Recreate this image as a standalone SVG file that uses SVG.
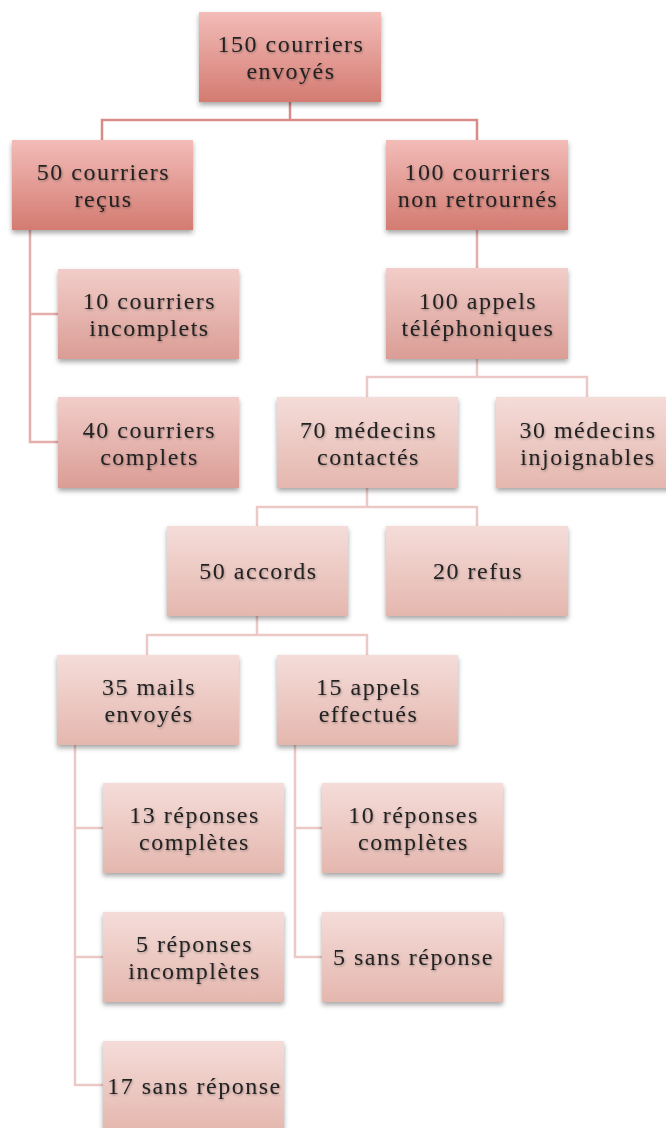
<svg xmlns="http://www.w3.org/2000/svg" width="666" height="1128" viewBox="0 0 666 1128">
<defs>
<linearGradient id="gDark" x1="0" y1="0" x2="0" y2="1"><stop offset="0" stop-color="#f3bcb8"/><stop offset="1" stop-color="#d37b71"/></linearGradient>
<linearGradient id="gMed" x1="0" y1="0" x2="0" y2="1"><stop offset="0" stop-color="#f2cdc9"/><stop offset="1" stop-color="#da9d95"/></linearGradient>
<linearGradient id="gLight" x1="0" y1="0" x2="0" y2="1"><stop offset="0" stop-color="#f5dcd9"/><stop offset="1" stop-color="#e4b7ae"/></linearGradient>
<filter id="shadow" x="-10%" y="-10%" width="120%" height="130%"><feDropShadow dx="0" dy="3" stdDeviation="2.5" flood-color="#000" flood-opacity="0.35"/></filter>
<filter id="tshadow" x="-5%" y="-20%" width="110%" height="150%"><feDropShadow dx="0.8" dy="1.2" stdDeviation="1" flood-color="#000" flood-opacity="0.3"/></filter>
</defs>
<style>
.box{filter:url(#shadow)}
.dark{fill:url(#gDark)}
.med{fill:url(#gMed)}
.light{fill:url(#gLight)}
text{font-family:"Liberation Serif","DejaVu Serif",serif;font-size:24px;letter-spacing:1.5px;fill:#222;text-anchor:middle;filter:url(#tshadow)}
.c0{stroke:#d88c89}
.c1{stroke:#e3aeab}
.c2{stroke:#ecc9c6}
#connectors path{fill:none;stroke-width:2.5}
</style>
<rect width="666" height="1128" fill="#fff"/>
<g id="connectors">
<path class="c0" d="M290,102 V120 M102,140 V120 H477 V140"/>
<path class="c1" d="M30,230 V442 H58 M30,314 H58"/>
<path class="c1" d="M477,230 V268"/>
<path class="c2" d="M477,359 V377 M367,397 V377 H587 V397"/>
<path class="c2" d="M367,488 V507 M257,526 V507 H477 V526"/>
<path class="c2" d="M257,616 V635 M147,655 V635 H367 V655"/>
<path class="c2" d="M75,745 V1085 H103 M75,828 H103 M75,957 H103"/>
<path class="c2" d="M295,745 V957 H322 M295,828 H322"/>
</g>
<g id="n0"><rect class="box dark" x="199" y="12" width="182" height="90"/><text x="291" y="52">150 courriers</text><text x="291" y="79">envoyés</text></g>
<g id="n1"><rect class="box dark" x="12" y="140" width="181" height="90"/><text x="103.5" y="180">50 courriers</text><text x="103.5" y="207">reçus</text></g>
<g id="n2"><rect class="box dark" x="386" y="140" width="182" height="90"/><text x="478" y="180">100 courriers</text><text x="478" y="207">non retrournés</text></g>
<g id="n3"><rect class="box med" x="58" y="269" width="181" height="90"/><text x="149.5" y="309">10 courriers</text><text x="149.5" y="336">incomplets</text></g>
<g id="n4"><rect class="box med" x="58" y="397" width="181" height="91"/><text x="149.5" y="438">40 courriers</text><text x="149.5" y="465">complets</text></g>
<g id="n5"><rect class="box med" x="386" y="268" width="182" height="91"/><text x="478" y="309">100 appels</text><text x="478" y="336">téléphoniques</text></g>
<g id="n6"><rect class="box light" x="277" y="397" width="181" height="91"/><text x="368.5" y="438">70 médecins</text><text x="368.5" y="465">contactés</text></g>
<g id="n7"><rect class="box light" x="496" y="397" width="182" height="91"/><text x="588" y="438">30 médecins</text><text x="588" y="465">injoignables</text></g>
<g id="n8"><rect class="box light" x="167" y="526" width="181" height="90"/><text x="258.5" y="579">50 accords</text></g>
<g id="n9"><rect class="box light" x="386" y="526" width="182" height="90"/><text x="478" y="579">20 refus</text></g>
<g id="n10"><rect class="box light" x="57" y="655" width="182" height="90"/><text x="149" y="695">35 mails</text><text x="149" y="722">envoyés</text></g>
<g id="n11"><rect class="box light" x="277" y="655" width="181" height="90"/><text x="368.5" y="695">15 appels</text><text x="368.5" y="722">effectués</text></g>
<g id="n12"><rect class="box light" x="103" y="783" width="181" height="90"/><text x="194.5" y="823">13 réponses</text><text x="194.5" y="850">complètes</text></g>
<g id="n13"><rect class="box light" x="322" y="783" width="181" height="90"/><text x="413.5" y="823">10 réponses</text><text x="413.5" y="850">complètes</text></g>
<g id="n14"><rect class="box light" x="103" y="912" width="181" height="90"/><text x="194.5" y="952">5 réponses</text><text x="194.5" y="979">incomplètes</text></g>
<g id="n15"><rect class="box light" x="322" y="912" width="181" height="90"/><text x="413.5" y="965">5 sans réponse</text></g>
<g id="n16"><rect class="box light" x="103" y="1041" width="181" height="90"/><text x="194.5" y="1094">17 sans réponse</text></g>
</svg>
